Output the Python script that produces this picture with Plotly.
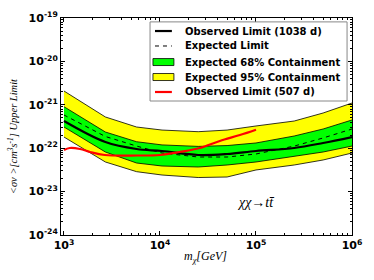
import plotly.graph_objects as go

# masses (GeV) for bands and 1038 d limits
mass = [1e3, 2.7e3, 5.7e3, 1.05e4, 2.5e4, 5e4, 1e5, 2.5e5, 5e5, 1e6]
band95_hi = [2.08e-21, 5.24e-22, 3.08e-22, 2.62e-22, 2.40e-22, 2.62e-22, 3.25e-22, 4.23e-22, 6.47e-22, 1.10e-21]
band95_lo = [1.81e-22, 4.81e-23, 2.88e-23, 2.41e-23, 2.11e-23, 2.17e-23, 3.15e-23, 4.10e-23, 5.35e-23, 7.75e-23]
band68_hi = [9.04e-22, 2.36e-22, 1.41e-22, 1.19e-22, 1.10e-22, 1.15e-22, 1.32e-22, 1.91e-22, 2.77e-22, 4.47e-22]
band68_lo = [3.08e-22, 8.17e-23, 4.56e-23, 3.89e-23, 3.69e-23, 4.10e-23, 4.81e-23, 6.61e-23, 8.17e-23, 1.12e-22]
obs_1038 = [4.24e-22, 1.39e-22, 9.59e-23, 8.61e-23, 6.97e-23, 7.35e-23, 8.61e-23, 1.01e-22, 1.32e-22, 1.81e-22]
expected = [5.82e-22, 1.86e-22, 1.12e-22, 7.75e-23, 6.27e-23, 6.27e-23, 7.35e-23, 1.12e-22, 1.72e-22, 2.77e-22]

# 507 d observed limit
mass_507 = [1000, 1150, 1470, 1870, 2670, 5770, 10000, 16000, 26000, 42000, 68000, 100000]
obs_507 = [9.10e-23, 1.01e-22, 9.59e-23, 8.17e-23, 6.97e-23, 6.79e-23, 6.97e-23, 8.17e-23, 1.01e-22, 1.47e-22, 2.01e-22, 2.67e-22]

x_ticks = [1e3, 1e4, 1e5, 1e6]
x_ticktext = ["<b>10<sup>3</sup></b>", "<b>10<sup>4</sup></b>", "<b>10<sup>5</sup></b>", "<b>10<sup>6</sup></b>"]
y_ticks = [1e-24, 1e-23, 1e-22, 1e-21, 1e-20, 1e-19]
y_ticktext = ["<b>10<sup>-24</sup></b>", "<b>10<sup>-23</sup></b>", "<b>10<sup>-22</sup></b>",
              "<b>10<sup>-21</sup></b>", "<b>10<sup>-20</sup></b>", "<b>10<sup>-19</sup></b>"]

legend_labels = ["Observed Limit (1038 d)", "Expected Limit", "Expected 68% Containment",
                 "Expected 95% Containment", "Observed Limit (507 d)"]

fig = go.Figure()
fig.add_trace(go.Scatter(x=mass, y=band95_lo, mode="lines", line=dict(color="black", width=0.8),
                         hoverinfo="skip"))
fig.add_trace(go.Scatter(x=mass, y=band95_hi, mode="lines", fill="tonexty", fillcolor="#ffff00",
                         line=dict(color="black", width=0.8), name=legend_labels[3]))
fig.add_trace(go.Scatter(x=mass, y=band68_lo, mode="lines", line=dict(color="black", width=0.8),
                         hoverinfo="skip"))
fig.add_trace(go.Scatter(x=mass, y=band68_hi, mode="lines", fill="tonexty", fillcolor="#00ff00",
                         line=dict(color="black", width=0.8), name=legend_labels[2]))
fig.add_trace(go.Scatter(x=mass, y=expected, mode="lines", line=dict(color="black", width=1, dash="4px,4px"),
                         name=legend_labels[1]))
fig.add_trace(go.Scatter(x=mass, y=obs_1038, mode="lines", line=dict(color="black", width=2.2, shape="spline"),
                         name=legend_labels[0]))
fig.add_trace(go.Scatter(x=mass_507, y=obs_507, mode="lines", line=dict(color="red", width=2.2, shape="spline"),
                         name=legend_labels[4]))

# manual legend (compact rows like the reference)
shapes = []
annotations = []
lx0, lx1, ly0, ly1 = 0.306, 0.983, 0.6175, 0.982
shapes.append(dict(type="rect", xref="paper", yref="paper", x0=lx0, x1=lx1, y0=ly0, y1=ly1,
                   line=dict(color="#888888", width=1), fillcolor="white", layer="above"))
row_y = [0.940, 0.871, 0.797, 0.728, 0.659]
sym_line = [dict(color="black", width=2.2), dict(color="black", width=1, dash="4px,4px"), None, None,
            dict(color="red", width=2.2)]
sym_fill = [None, None, "#00ff00", "#ffff00", None]
for i, lab in enumerate(legend_labels):
    yy = row_y[i]
    if sym_fill[i] is not None:
        shapes.append(dict(type="rect", xref="paper", yref="paper", x0=0.316, x1=0.388,
                           y0=yy - 0.0161, y1=yy + 0.0161, fillcolor=sym_fill[i],
                           line=dict(color="black", width=0.8), layer="above"))
    else:
        shapes.append(dict(type="line", xref="paper", yref="paper", x0=0.323, x1=0.381,
                           y0=yy, y1=yy, line=sym_line[i], layer="above"))
    annotations.append(dict(text="<b>" + lab + "</b>", x=0.419, y=yy, xref="paper", yref="paper",
                            xanchor="left", yanchor="middle", showarrow=False,
                            font=dict(family="DejaVu Sans", size=10, color="black")))

annotations += [
    dict(text="<i>χχ→tt̄</i>", x=0.742, y=0.106, xref="paper", yref="paper",
         showarrow=False, font=dict(family="Liberation Serif", size=14)),
    dict(text="<i>m<sub>χ</sub>[GeV]</i>", x=0.498, y=-0.101, xref="paper", yref="paper",
         xanchor="center", yanchor="middle",
         showarrow=False, font=dict(family="Liberation Serif", size=12)),
    dict(text="<i>&lt;σv &gt;[cm<sup>3</sup>s<sup>-1</sup>] Upper Limit</i>", x=-0.168, y=0.456,
         xref="paper", yref="paper", textangle=-90, xanchor="center", yanchor="middle",
         showarrow=False, font=dict(family="Liberation Serif", size=10.5)),
]

fig.update_layout(
    width=374, height=280,
    margin=dict(l=61, r=22, t=18, b=45),
    paper_bgcolor="white", plot_bgcolor="white",
    font=dict(family="DejaVu Sans", color="black"),
    showlegend=False,
    xaxis=dict(type="log", range=[2.969, 6.0], tickvals=x_ticks, ticktext=x_ticktext,
               ticks="inside", ticklen=4, tickcolor="black", showline=True, linecolor="black",
               linewidth=1, mirror="ticks", showgrid=False, zeroline=False, automargin=False,
               tickfont=dict(family="DejaVu Sans", size=11),
               minor=dict(ticks="inside", ticklen=2, tickcolor="black", showgrid=False, dtick="D1")),
    yaxis=dict(type="log", range=[-24, -19], tickvals=y_ticks, ticktext=y_ticktext,
               ticks="inside", ticklen=4, tickcolor="black", showline=True, linecolor="black",
               linewidth=1, mirror="ticks", showgrid=False, zeroline=False, automargin=False,
               tickfont=dict(family="DejaVu Sans", size=11),
               minor=dict(ticks="inside", ticklen=2, tickcolor="black", showgrid=False, dtick="D1")),
    shapes=shapes,
    annotations=annotations,
)

fig.write_html("out.html", config={"displayModeBar": False},
               post_script="document.body.style.margin='0';document.body.style.padding='0';"
                           "document.documentElement.style.overflow='hidden';")
